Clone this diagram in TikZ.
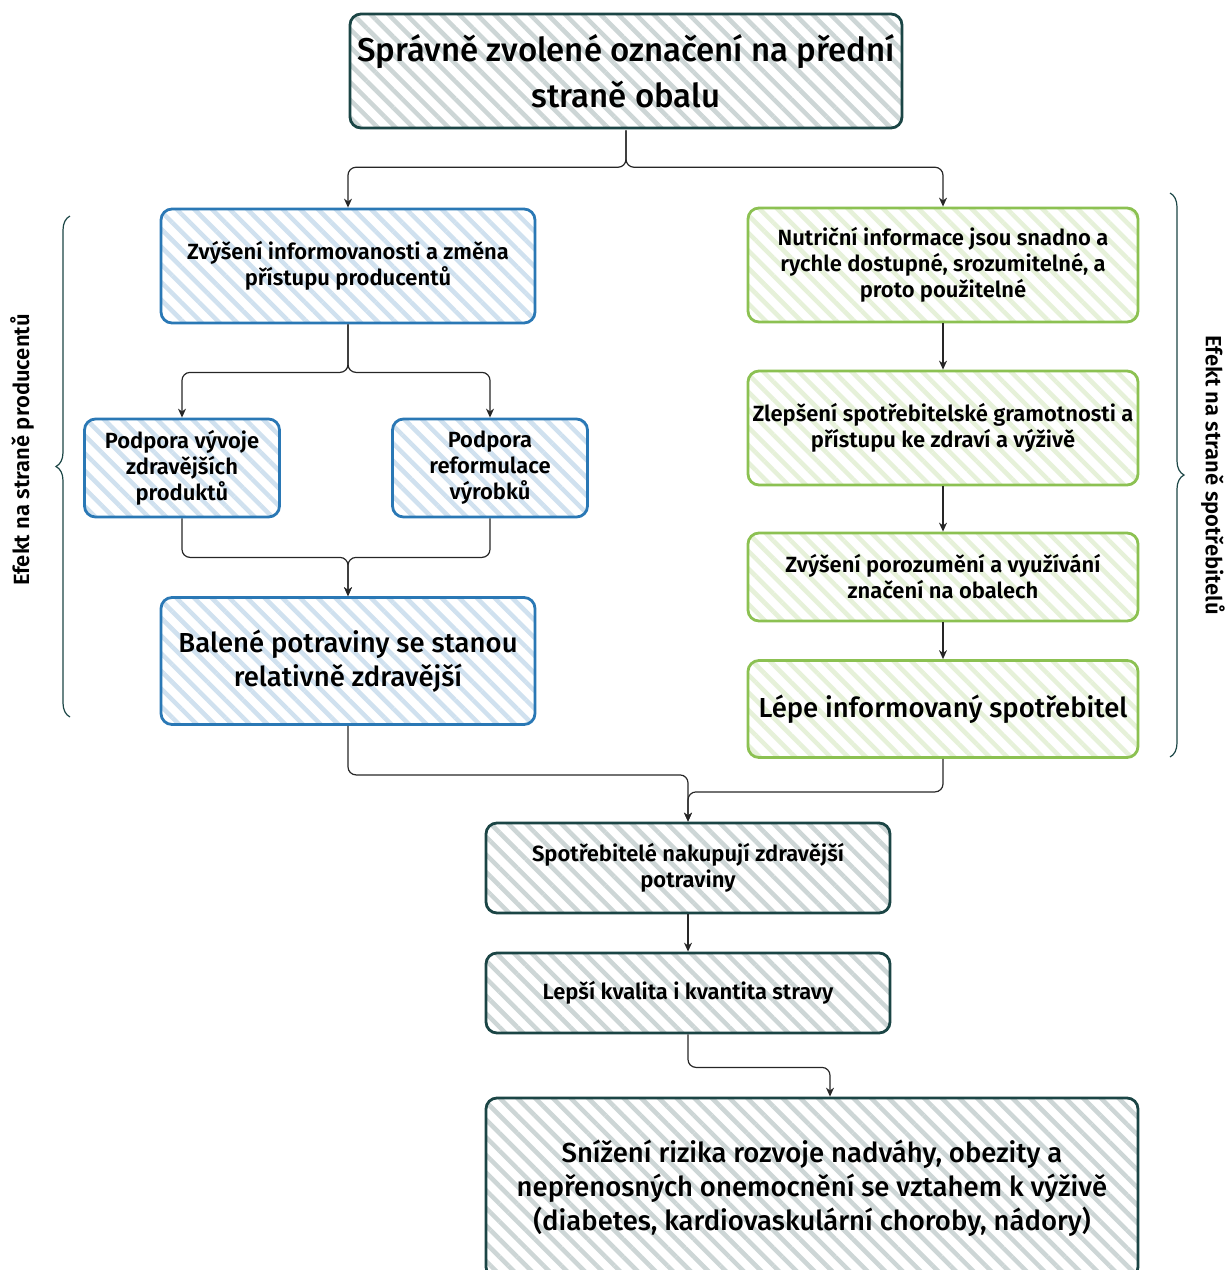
\documentclass[tikz,border=0pt]{standalone}
\usepackage{fontspec}
\setmainfont{Fira Sans}
\IfFontExistsTF{Fira Sans SemiBold}{\newfontfamily\semifont{Fira Sans SemiBold}}{\newfontfamily\semifont{Fira Sans}[FakeBold=1.5]}
\IfFontExistsTF{Fira Sans Medium}{\newfontfamily\medfont{Fira Sans Medium}}{\newfontfamily\medfont{Fira Sans}[FakeBold=0.8]}
\usetikzlibrary{arrows.meta,patterns.meta,decorations.pathreplacing}

\definecolor{dkteal}{HTML}{1B4545}
\definecolor{prodblue}{HTML}{2A78B5}
\definecolor{konsgreen}{HTML}{8CC152}

\begin{document}
\begin{tikzpicture}[x=1pt, y=-1pt,
    box/.style={draw=#1, line width=2.8pt, rounded corners=11pt, align=center,
        inner sep=2pt, preaction={fill=white},
        pattern={Lines[angle=-45,distance=12.5pt,line width=4.5pt]}, pattern color=#1!22},
    small/.style={font=\fontsize{22}{26}\semifont},
    large/.style={font=\fontsize{27.5}{34}\medfont},
    link/.style={-{Stealth[length=9pt,width=8pt]}, line width=1.2pt, draw=black!85, rounded corners=8pt},
    brace/.style={draw=dkteal, line width=1.2pt, decorate, decoration={brace, amplitude=14pt}},
    side/.style={font=\fontsize{22}{24}\semifont}
]
\useasboundingbox (0,0) rectangle (1226,1270);

% main box
\node[box=dkteal, minimum width=552pt, minimum height=114pt,
      font=\fontsize{33}{46}\medfont] (top) at (626,71)
      {Správně zvolené označení na přední\\straně obalu};

% producers
\node[box=prodblue, small, minimum width=374pt, minimum height=114pt] (prod1) at (348,266)
      {Zvýšení informovanosti a změna\\přístupu producentů};
\node[box=prodblue, small, minimum width=195pt, minimum height=98pt] (prod2) at (182,468)
      {Podpora vývoje\\zdravějších\\produktů};
\node[box=prodblue, small, minimum width=195pt, minimum height=98pt] (prod3) at (490,468)
      {Podpora\\reformulace\\výrobků};
\node[box=prodblue, large, minimum width=374pt, minimum height=127pt] (prod4) at (348,661)
      {Balené potraviny se stanou\\relativně zdravější};

% consumers
\node[box=konsgreen, small, minimum width=390pt, minimum height=114pt] (kons1) at (943,265)
      {Nutriční informace jsou snadno a\\rychle dostupné, srozumitelné, a\\proto použitelné};
\node[box=konsgreen, small, minimum width=390pt, minimum height=114pt] (kons2) at (943,428)
      {Zlepšení spotřebitelské gramotnosti a\\přístupu ke zdraví a výživě};
\node[box=konsgreen, small, minimum width=390pt, minimum height=88pt] (kons3) at (943,577)
      {Zvýšení porozumění a využívání\\značení na obalech};
\node[box=konsgreen, large, minimum width=390pt, minimum height=97pt] (kons4) at (943,709)
      {Lépe informovaný spotřebitel};

% common outcome
\node[box=dkteal, small, minimum width=404pt, minimum height=90pt] (out1) at (688,868)
      {Spotřebitelé nakupují zdravější\\potraviny};
\node[box=dkteal, small, minimum width=404pt, minimum height=80pt] (out2) at (688,993)
      {Lepší kvalita i kvantita stravy};
\node[box=dkteal, large, minimum width=652pt, minimum height=180pt] (out3) at (812,1188)
      {Snížení rizika rozvoje nadváhy, obezity a\\nepřenosných onemocnění se vztahem k výživě\\(diabetes, kardiovaskulární choroby, nádory)};

% connectors
\draw[link] (top.south) -- ++(0,37) -| (prod1.north);
\draw[link] (top.south) -- ++(0,37) -| (kons1.north);
\draw[link] (prod1.south) -- ++(0,48) -| (prod2.north);
\draw[link] (prod1.south) -- ++(0,48) -| (prod3.north);
\draw[link] (prod2.south) -- ++(0,39) -| (prod4.north);
\draw[link] (prod3.south) -- ++(0,39) -| (prod4.north);
\draw[link] (kons1) -- (kons2);
\draw[link] (kons2) -- (kons3);
\draw[link] (kons3) -- (kons4);
\draw[link] (prod4.south) -- ++(0,49) -| (out1.north);
\draw[link] (kons4.south) -- ++(0,33) -| (out1.north);
\draw[link] (out1) -- (out2);
\draw[link] (out2.south) -- ++(0,33) -| ([xshift=18pt]out3.north);

% braces
\coordinate (pb1) at (70,717);
\coordinate (pb2) at (70,216);
\coordinate (kb1) at (1170,193);
\coordinate (kb2) at (1170,757);
\draw[brace] (pb1) -- (pb2);
\draw[brace] (kb1) -- (kb2);
\node[side, rotate=90] (pside) at (22,450) {Efekt na straně producentů};
\node[side, rotate=-90] (kside) at (1213,475) {Efekt na straně spotřebitelů};

\end{tikzpicture}
\end{document}
